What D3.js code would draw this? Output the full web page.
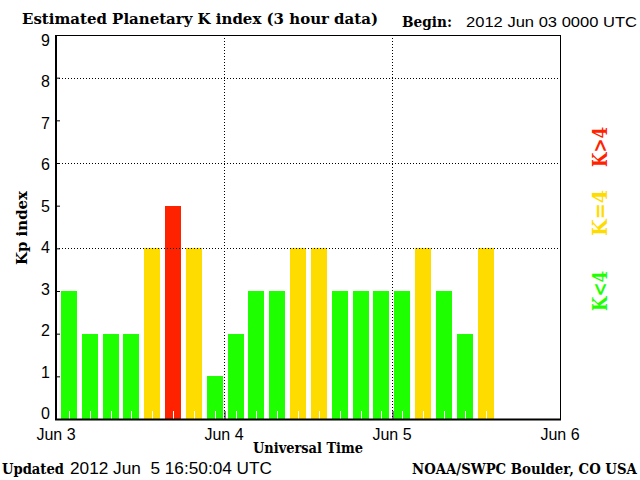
<!DOCTYPE html>
<html><head><meta charset="utf-8">
<script src="https://cdn.jsdelivr.net/npm/d3@7"></script>
<style>
html,body{margin:0;padding:0;background:#fff;}
svg{display:block;}
.serifb{font-family:"DejaVu Serif",serif;font-weight:bold;}
.sans{font-family:"Liberation Sans",Arial,sans-serif;}
</style></head>
<body>
<svg id="chart" width="640" height="480"></svg>
<script>
// ---- data ----
const kpValues = [3,2,2,2,4,5,4,1, 2,3,3,4,4,3,3,3, 3,4,3,2,4];
const slotCount = 24; // 3-hour slots over 3 days
const dayLabels = ["Jun 3","Jun 4","Jun 5","Jun 6"];
const yTickValues = [0,1,2,3,4,5,6,7,8,9];
const gridYValues = [4,6,8];
const legendItems = [
  {label:"K>4", color:"#ff2200"},
  {label:"K=4", color:"#ffdc00"},
  {label:"K<4", color:"#1eff00"}
];
const titleText = "Estimated Planetary K index (3 hour data)";
const beginDate = "2012 Jun 03 0000 UTC";
const updatedDate = "2012 Jun  5 16:50:04 UTC";
const creditText = "NOAA/SWPC Boulder, CO USA";

function kpColor(v){ return v < 4 ? "#1eff00" : (v === 4 ? "#ffdc00" : "#ff2200"); }

// ---- layout ----
const L = 56, R = 560, T = 35, B = 419;
const svg = d3.select("#chart");

const y = d3.scaleLinear().domain([0,9]).range([B,T]);
const yLab = d3.scaleLinear().domain([0,9]).range([413,40]); // label centres
const xDay = d3.scaleLinear().domain([0,3]).range([L,R]);
const xSlot = d3.scaleBand().domain(d3.range(slotCount)).range([61,556]).paddingInner(0.232).paddingOuter(0);

// bars
svg.append("g").selectAll("rect").data(kpValues).join("rect")
  .attr("x", (d,i)=>xSlot(i))
  .attr("y", d=>y(d))
  .attr("width", xSlot.bandwidth())
  .attr("height", d=>B - y(d))
  .attr("fill", d=>kpColor(d))
  .attr("shape-rendering","crispEdges");

// white minor ticks at bar centers
svg.append("g").selectAll("line").data(kpValues).join("line")
  .attr("x1",(d,i)=>Math.round(xSlot(i)+xSlot.bandwidth()/2)+0.5)
  .attr("x2",(d,i)=>Math.round(xSlot(i)+xSlot.bandwidth()/2)+0.5)
  .attr("y1",B-8).attr("y2",B)
  .attr("stroke","#fff").attr("stroke-width",1);

// dotted grid lines
svg.append("g").selectAll("line").data(gridYValues).join("line")
  .attr("x1",L).attr("x2",R)
  .attr("y1",d=>Math.round(y(d))+0.5).attr("y2",d=>Math.round(y(d))+0.5)
  .attr("stroke","#000").attr("stroke-dasharray","1,2");
svg.append("g").selectAll("line").data([1,2]).join("line")
  .attr("x1",d=>xDay(d)+0.5).attr("x2",d=>xDay(d)+0.5)
  .attr("y1",T).attr("y2",B)
  .attr("stroke","#000").attr("stroke-dasharray","1,2");

// frame
svg.append("rect").attr("x",L+0.5).attr("y",T+0.5).attr("width",R-L).attr("height",B-T)
  .attr("fill","none").attr("stroke","#000").attr("stroke-width",1);
svg.append("line").attr("x1",L).attr("x2",L).attr("y1",T).attr("y2",B+1)
  .attr("stroke","#000").attr("stroke-width",2);
svg.append("line").attr("x1",L-1).attr("x2",R+1).attr("y1",B+0.5).attr("y2",B+0.5)
  .attr("stroke","#000").attr("stroke-width",2);

// y axis (inward ticks)
const yAxis = d3.axisRight(y).tickValues(yTickValues).tickSize(4).tickFormat("");
const yg = svg.append("g").attr("transform",`translate(${L},0)`).call(yAxis);
yg.select(".domain").remove();
yg.selectAll(".tick line").attr("stroke","#000");
svg.append("g").selectAll("text").data(yTickValues).join("text")
  .attr("class","sans").attr("x",50).attr("y",d=>yLab(d)+6)
  .attr("text-anchor","end").attr("font-size",16).attr("fill","#000")
  .text(d=>d);

// x axis major ticks (inward) and labels
const xAxis = d3.axisTop(xDay).tickValues([1,2]).tickSize(8).tickFormat("");
const xg = svg.append("g").attr("transform",`translate(0.5,${B})`).call(xAxis);
xg.select(".domain").remove();
xg.selectAll(".tick line").attr("stroke","#000");
svg.append("g").selectAll("text").data(dayLabels).join("text")
  .attr("class","sans").attr("x",(d,i)=>xDay(i)).attr("y",440)
  .attr("text-anchor","middle").attr("font-size",16).attr("fill","#000")
  .text(d=>d);

// titles
svg.append("text").attr("class","serifb").attr("x",22).attr("y",24)
  .attr("font-size",14).attr("textLength",356).attr("lengthAdjust","spacingAndGlyphs")
  .text(titleText);
svg.append("text").attr("class","serifb").attr("x",402).attr("y",27)
  .attr("font-size",14).attr("textLength",50).attr("lengthAdjust","spacingAndGlyphs")
  .text("Begin:");
svg.append("text").attr("class","sans").attr("x",466).attr("y",27)
  .attr("font-size",15).attr("textLength",171).attr("lengthAdjust","spacingAndGlyphs")
  .text(beginDate);

svg.append("text").attr("class","serifb")
  .attr("transform","translate(27,228) rotate(-90)")
  .attr("text-anchor","middle").attr("font-size",15)
  .attr("textLength",74).attr("lengthAdjust","spacingAndGlyphs")
  .text("Kp index");

svg.append("text").attr("class","serifb").attr("x",308).attr("y",453)
  .attr("text-anchor","middle").attr("font-size",14)
  .attr("textLength",110).attr("lengthAdjust","spacingAndGlyphs")
  .text("Universal Time");

svg.append("text").attr("class","serifb").attr("x",2).attr("y",474)
  .attr("font-size",15).attr("textLength",62).attr("lengthAdjust","spacingAndGlyphs")
  .text("Updated");
svg.append("text").attr("class","sans").attr("x",70).attr("y",474)
  .attr("font-size",16).attr("textLength",202).attr("lengthAdjust","spacingAndGlyphs")
  .style("white-space","pre")
  .text(updatedDate);

// credit: scaled horizontally to fit its width (so its box stays on the page)
const credit = svg.append("text").attr("class","serifb")
  .attr("x",0).attr("y",0).attr("font-size",15)
  .text(creditText);
const creditNat = credit.node().getComputedTextLength();
credit.attr("transform",`translate(412,474) scale(${225/creditNat},1)`);

// legend (rotated)
const legendCenters = [147,213,291];
svg.append("g").selectAll("text").data(legendItems).join("text")
  .attr("class","serifb")
  .attr("transform",(d,i)=>`translate(607,${legendCenters[i]}) rotate(-90)`)
  .attr("text-anchor","middle").attr("font-size",20).attr("fill",d=>d.color)
  .attr("textLength",(d,i)=> i===1 ? 46 : 40).attr("lengthAdjust","spacingAndGlyphs")
  .text(d=>d.label);
</script>
</body></html>
